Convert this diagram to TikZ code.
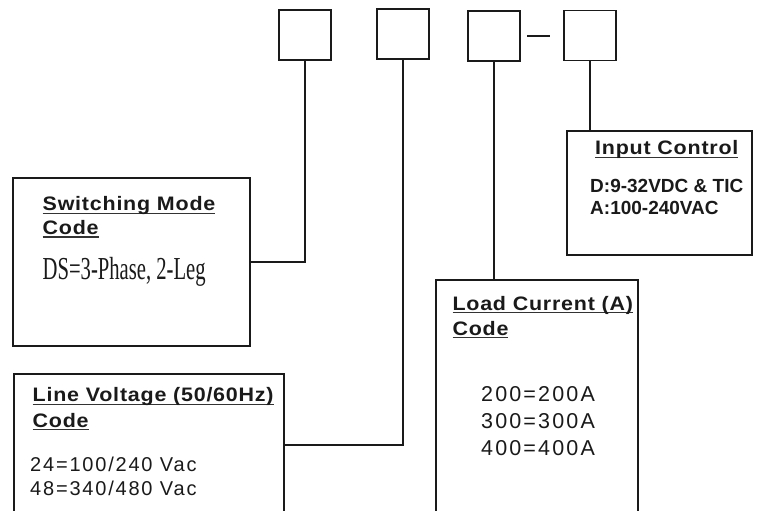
\documentclass[tikz,border=0pt]{standalone}
\usepackage{fontspec}
\setmainfont{Liberation Sans}
\newfontfamily\titlefont[FakeStretch=1.1,LetterSpace=4]{Liberation Sans}
\newfontfamily\bodyfont[LetterSpace=9]{Liberation Sans}
\newfontfamily\loadfont[LetterSpace=10]{Liberation Sans}
\newfontfamily\plainsans{Liberation Sans}
\newfontfamily\condserif[FakeStretch=0.645]{Liberation Serif}
\definecolor{ink}{HTML}{1A1A1A}
\definecolor{ulgray}{HTML}{333333}
\newcommand\ulbox[1]{\setbox0=\hbox{#1}\rlap{\color{ulgray}\rule[-3.4pt]{\wd0}{1.3pt}}\box0}
\tikzset{
  sqbox/.style={draw=ink, line width=1.3pt, minimum width=52pt, minimum height=50pt, inner sep=0pt},
  bigbox/.style={draw=ink, line width=2pt, inner sep=0pt},
  thinbox/.style={draw=ink, line width=1.4pt, inner sep=0pt},
  conn/.style={draw=ink, line width=2pt},
  txt/.style={anchor=base west, inner sep=0pt, text=ink},
  ttl/.style={txt, font=\titlefont\bfseries\fontsize{19.5}{19.5}\selectfont},
  bdy/.style={txt, font=\bodyfont\fontsize{20}{20}\selectfont},
  ldy/.style={txt, font=\loadfont\fontsize{21.5}{21.5}\selectfont},
  icy/.style={txt, font=\plainsans\bfseries\fontsize{19}{19}\selectfont},
}
\begin{document}
\begin{tikzpicture}[x=1pt,y=-1pt]
\clip (0,0) rectangle (758,511);
\fill[white] (0,0) rectangle (758,511);
% top code boxes
\node[sqbox] (b1) at (305,35) {};
\node[sqbox] (b2) at (403,34) {};
\node[sqbox] (b3) at (494,36) {};
\node[sqbox] (b4) at (590,35.5) {};
\coordinate (d1) at (527,36);
\coordinate (d2) at (550,36);
\draw[ink, line width=1.3pt] (d1) -- (d2);
% description boxes
\node[bigbox, minimum width=237pt, minimum height=168pt] (sw) at (131.5,262) {};
\node[thinbox, minimum width=270pt, minimum height=160pt] (lv) at (149,454) {};
\node[bigbox, minimum width=202pt, minimum height=250pt] (ld) at (537,405) {};
\node[bigbox, minimum width=185pt, minimum height=124pt] (ic) at (659.5,193) {};
% connectors
\draw[conn] (b1.south) |- (sw.east);
\coordinate (lvj) at (284,445);
\draw[conn] (b2.south) |- (lvj);
\draw[conn] (b3.south) -- (b3.south |- ld.north);
\draw[conn] (b4.south) -- (b4.south |- ic.north);
% Switching mode text
\node[ttl] (sw1) at (42.5,210.7) {\ulbox{Switching Mode}};
\node[ttl] (sw2) at (42.5,234.3) {\ulbox{Code}};
\node[txt, font=\condserif\fontsize{32}{32}\selectfont] (sw3) at (42.5,279) {DS=3-Phase, 2-Leg};
% Line voltage text
\node[ttl] (lv1) at (32.5,401.7) {\ulbox{Line Voltage (50/60Hz)}};
\node[ttl] (lv2) at (32.5,427) {\ulbox{Code}};
\node[bdy] (lv3) at (30,471) {24=100/240 Vac};
\node[bdy] (lv4) at (30,495) {48=340/480 Vac};
% Load current text
\node[ttl] (ld1) at (452.3,310) {\ulbox{Load Current (A)}};
\node[ttl] (ld2) at (452.3,335) {\ulbox{Code}};
\node[ldy] (ld3) at (481,401.7) {200=200A};
\node[ldy] (ld4) at (481,428.3) {300=300A};
\node[ldy] (ld5) at (481,455) {400=400A};
% Input control text
\node[ttl] (ic1) at (595,154.5) {\ulbox{Input Control}};
\node[icy] (ic2) at (590,192) {D:9-32VDC \& TIC};
\node[icy] (ic3) at (590,214) {A:100-240VAC};
\end{tikzpicture}
\end{document}
